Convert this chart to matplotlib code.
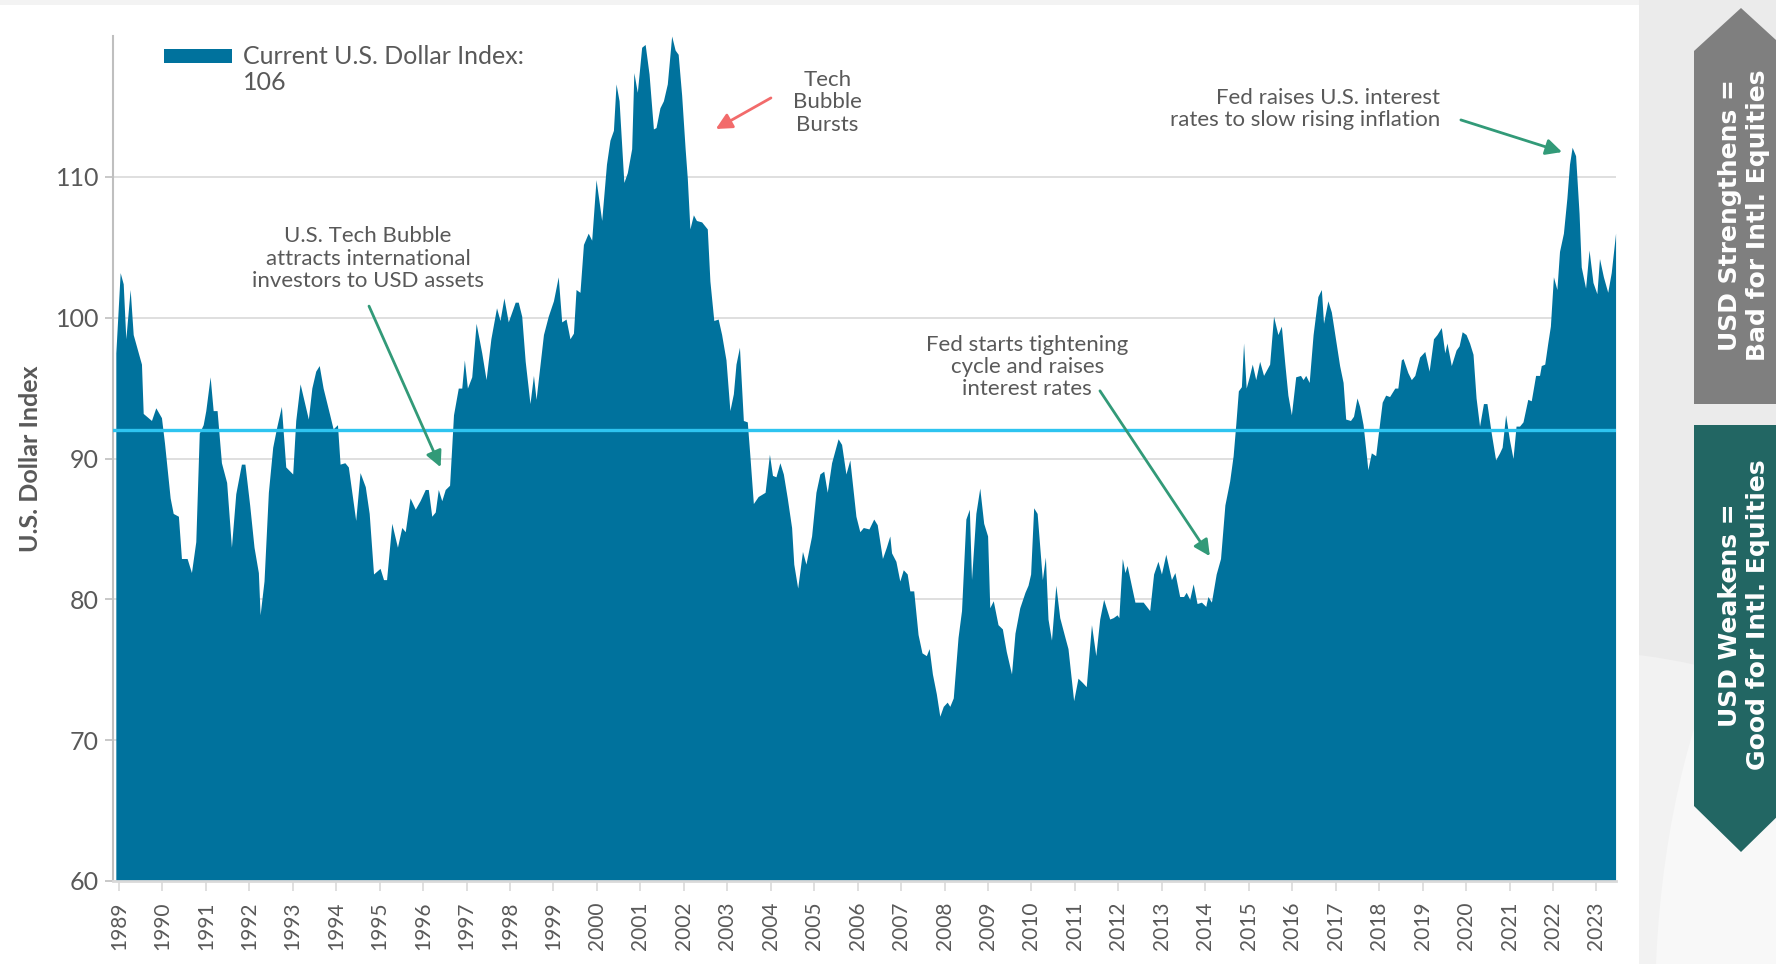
import matplotlib
matplotlib.use("Agg")
import matplotlib.pyplot as plt
from matplotlib.patches import Polygon, Rectangle, Ellipse

# ---------------- data ----------------
dates = [
    1988.93, 1989.03, 1989.10, 1989.16, 1989.26, 1989.33, 1989.52, 1989.56, 1989.75, 1989.85,
    1989.98, 1990.05, 1990.18, 1990.25, 1990.37, 1990.44, 1990.57, 1990.67, 1990.77, 1990.85,
    1990.94, 1991.00, 1991.10, 1991.17, 1991.26, 1991.36, 1991.48, 1991.59, 1991.69, 1991.82,
    1991.90, 1992.01, 1992.11, 1992.21, 1992.25, 1992.34, 1992.44, 1992.54, 1992.63, 1992.74,
    1992.84, 1993.00, 1993.07, 1993.17, 1993.36, 1993.44, 1993.53, 1993.61, 1993.70, 1993.86,
    1993.93, 1994.03, 1994.09, 1994.20, 1994.28, 1994.45, 1994.55, 1994.67, 1994.76, 1994.86,
    1995.01, 1995.09, 1995.16, 1995.28, 1995.41, 1995.51, 1995.59, 1995.70, 1995.82, 1995.93,
    1996.05, 1996.12, 1996.20, 1996.28, 1996.35, 1996.43, 1996.51, 1996.61, 1996.70, 1996.81,
    1996.89, 1996.95, 1997.02, 1997.12, 1997.22, 1997.35, 1997.45, 1997.56, 1997.69, 1997.77,
    1997.86, 1997.96, 1998.12, 1998.19, 1998.27, 1998.35, 1998.46, 1998.54, 1998.60, 1998.77,
    1998.88, 1999.00, 1999.11, 1999.19, 1999.29, 1999.38, 1999.46, 1999.52, 1999.61, 1999.69,
    1999.80, 1999.88, 1999.98, 2000.11, 2000.22,
    2000.30, 2000.38, 2000.44, 2000.51, 2000.62, 2000.70, 2000.80, 2000.85, 2000.93, 2001.03,
    2001.11, 2001.20, 2001.30, 2001.36, 2001.45, 2001.53, 2001.62, 2001.72, 2001.80, 2001.87,
    2001.95, 2002.03, 2002.08, 2002.14, 2002.22, 2002.29, 2002.41, 2002.54, 2002.60, 2002.69,
    2002.79, 2002.87, 2002.97, 2003.06, 2003.14, 2003.20, 2003.28, 2003.37, 2003.46, 2003.52,
    2003.60, 2003.71, 2003.87, 2003.97, 2004.04, 2004.12, 2004.21, 2004.29, 2004.38, 2004.48,
    2004.53, 2004.62, 2004.73, 2004.81, 2004.94, 2005.04, 2005.13, 2005.22, 2005.30, 2005.40,
    2005.55, 2005.63, 2005.73, 2005.82, 2005.96,
    2006.05, 2006.13, 2006.26, 2006.37, 2006.45, 2006.57, 2006.66, 2006.74, 2006.78, 2006.88,
    2006.97, 2007.05, 2007.14, 2007.20, 2007.29, 2007.39, 2007.48, 2007.58, 2007.645, 2007.72,
    2007.81, 2007.89, 2007.97, 2008.06, 2008.12, 2008.20, 2008.31, 2008.39, 2008.49, 2008.57,
    2008.62, 2008.72, 2008.81, 2008.90, 2008.99, 2009.04, 2009.12, 2009.23, 2009.33, 2009.42,
    2009.54, 2009.62, 2009.73, 2009.85, 2009.92, 2009.98, 2010.05, 2010.13, 2010.25, 2010.32,
    2010.38, 2010.46, 2010.56, 2010.65, 2010.77, 2010.84, 2010.97, 2011.07, 2011.17, 2011.26,
    2011.38, 2011.48, 2011.57, 2011.66,
    2011.80, 2011.88, 2011.97, 2012.01, 2012.09, 2012.15, 2012.20, 2012.38, 2012.45, 2012.57,
    2012.72, 2012.81, 2012.91, 2012.99, 2013.09, 2013.22, 2013.30, 2013.41, 2013.50, 2013.56,
    2013.64, 2013.72, 2013.81, 2013.91, 2014.01, 2014.06, 2014.14, 2014.25, 2014.35, 2014.45,
    2014.56, 2014.64, 2014.70, 2014.76, 2014.83, 2014.88, 2014.94, 2015.01, 2015.08, 2015.16,
    2015.25, 2015.34, 2015.48, 2015.57, 2015.67, 2015.75, 2015.83, 2015.90, 2015.98, 2016.08,
    2016.19, 2016.25, 2016.31, 2016.39, 2016.48, 2016.59, 2016.67, 2016.72, 2016.82, 2016.90,
    2017.01, 2017.09, 2017.17, 2017.23, 2017.34, 2017.41, 2017.49,
    2017.55, 2017.63, 2017.69, 2017.74, 2017.82, 2017.92, 2017.97, 2018.07, 2018.15, 2018.24,
    2018.36, 2018.43, 2018.51, 2018.55, 2018.66, 2018.74, 2018.82, 2018.93, 2019.05, 2019.15,
    2019.25, 2019.33, 2019.43, 2019.51, 2019.56, 2019.66, 2019.77, 2019.84, 2019.91, 2020.00,
    2020.08, 2020.16, 2020.23, 2020.31, 2020.40, 2020.48, 2020.58, 2020.68, 2020.77, 2020.83,
    2020.91, 2021.00, 2021.08, 2021.15, 2021.23, 2021.31, 2021.42, 2021.50, 2021.60, 2021.69,
    2021.73, 2021.81, 2021.88, 2021.94, 2022.01, 2022.09, 2022.15, 2022.24, 2022.32, 2022.38,
    2022.44, 2022.52, 2022.60, 2022.65, 2022.75, 2022.83, 2022.92, 2023.01, 2023.07, 2023.16,
    2023.26, 2023.34, 2023.44,
]
usd_index = [
    97.5, 103.2, 102.4, 98.5, 102.0, 98.8, 96.7, 93.2, 92.7, 93.6,
    92.9, 91.1, 87.2, 86.1, 85.9, 82.9, 82.9, 81.9, 84.1, 91.8,
    92.4, 93.4, 95.8, 93.4, 93.4, 89.7, 88.3, 83.7, 87.5, 89.6,
    89.6, 86.7, 83.7, 81.9, 78.9, 81.3, 87.6, 90.8, 92.2, 93.7,
    89.4, 88.9, 92.7, 95.3, 92.8, 95.0, 96.2, 96.6, 95.0, 93.0,
    92.1, 92.4, 89.6, 89.7, 89.4, 85.6, 89.0, 88.0, 86.1, 81.8,
    82.2, 81.4, 81.4, 85.4, 83.7, 85.1, 84.8, 87.2, 86.4, 87.0,
    87.8, 87.8, 85.9, 86.2, 87.8, 87.0, 87.8, 88.1, 93.1, 95.0,
    95.0, 97.0, 95.0, 95.8, 99.6, 97.5, 95.6, 98.5, 100.7, 99.8,
    101.4, 99.7, 101.1, 101.1, 100.1, 96.9, 93.9, 95.9, 94.2, 98.8,
    100.1, 101.2, 102.9, 99.7, 99.9, 98.5, 98.9, 102.0, 101.8, 105.2,
    106.0, 105.5, 109.8, 106.9, 110.9,
    112.6, 113.3, 116.6, 115.4, 109.6, 110.3, 112.0, 117.4, 116.0, 119.2,
    119.4, 117.3, 113.4, 113.5, 114.9, 115.4, 116.6, 120.0, 119.0, 118.7,
    115.8, 112.0, 109.9, 106.3, 107.3, 106.9, 106.8, 106.3, 102.6, 99.8,
    99.9, 98.8, 97.0, 93.4, 94.6, 96.7, 97.9, 92.7, 92.6, 90.2,
    86.8, 87.3, 87.6, 90.3, 88.8, 88.7, 89.7, 88.9, 87.2, 85.1,
    82.5, 80.8, 83.4, 82.5, 84.5, 87.6, 88.9, 89.1, 87.6, 89.7,
    91.4, 91.0, 88.9, 89.9, 85.9,
    84.8, 85.1, 85.0, 85.7, 85.3, 82.9, 83.7, 84.5, 83.3, 82.7,
    81.3, 82.1, 81.8, 80.6, 80.6, 77.5, 76.2, 76.0, 76.5, 74.7,
    73.3, 71.7, 72.4, 72.7, 72.4, 73.0, 77.3, 79.2, 85.7, 86.4,
    81.4, 86.1, 87.9, 85.4, 84.5, 79.4, 79.9, 78.2, 77.9, 76.3,
    74.7, 77.6, 79.4, 80.5, 81.0, 81.8, 86.5, 86.1, 81.4, 83.0,
    78.6, 77.1, 81.0, 78.7, 77.3, 76.5, 72.8, 74.4, 74.1, 73.8,
    78.2, 76.0, 78.6, 80.0,
    78.6, 78.7, 78.9, 78.7, 82.9, 81.9, 82.4, 79.8, 79.8, 79.8,
    79.2, 81.8, 82.7, 81.8, 83.2, 81.4, 81.9, 80.2, 80.2, 80.5,
    80.0, 81.1, 79.7, 79.8, 79.5, 80.2, 79.8, 81.8, 82.9, 86.7,
    88.4, 90.2, 92.4, 94.8, 95.1, 98.2, 95.0, 95.8, 96.7, 95.6,
    96.9, 95.9, 96.7, 100.1, 98.8, 99.4, 96.7, 94.5, 93.1, 95.8,
    95.9, 95.6, 95.9, 95.4, 98.8, 101.5, 102.0, 99.6, 101.2, 100.4,
    98.2, 96.6, 95.4, 92.8, 92.7, 93.0, 94.3,
    93.7, 92.4, 90.7, 89.2, 90.4, 90.2, 91.5, 94.0, 94.5, 94.4,
    95.0, 95.0, 97.0, 97.1, 96.1, 95.6, 95.9, 97.2, 97.6, 96.2,
    98.5, 98.8, 99.3, 97.5, 98.2, 96.6, 97.7, 98.0, 99.0, 98.8,
    98.2, 97.4, 94.3, 92.3, 93.9, 93.9, 91.8, 89.9, 90.4, 90.8,
    93.1, 91.3, 90.0, 92.3, 92.3, 92.6, 94.2, 94.1, 95.9, 95.9,
    96.6, 96.7, 98.2, 99.4, 102.9, 102.0, 104.7, 106.0, 108.5, 110.9,
    112.1, 111.5, 107.4, 103.6, 102.1, 104.8, 102.5, 101.7, 104.2, 102.9,
    101.8, 103.2, 106.0,
]
average_level = 92
y_ticks = [60, 70, 80, 90, 100, 110]
x_ticks = list(range(1989, 2024))
legend_label = "Current U.S. Dollar Index:\n106"

# ---------------- style ----------------
FONT = "Lato"
GRAY_TXT = "#595959"
FILL = "#00729D"
LINE = "#2EC4F0"
GREEN = "#329A78"
RED = "#F26B6B"

W, H = 1776, 964
fig = plt.figure(figsize=(W / 100, H / 100), dpi=100)
fig.patch.set_facecolor("white")

def fx(x):
    return x / W

def fy(y):
    return 1 - y / H

# background decorations (right panel)
fig.patches.append(Rectangle((0, fy(5)), 1, 5 / H, transform=fig.transFigure,
                             facecolor="#F3F3F3", edgecolor="none", zorder=0))
panel = Rectangle((fx(1639), 0), 1 - fx(1639), 1, transform=fig.transFigure,
                  facecolor="#EBEBEB", edgecolor="none", zorder=0)
fig.patches.append(panel)
band = Ellipse((fx(1560), fy(1150)), 2 * 560 / W, 2 * 500 / H,
               transform=fig.transFigure, facecolor="#F2F2F2", edgecolor="none", zorder=0)
fig.patches.append(band)
band.set_clip_path(panel)
arc = Ellipse((fx(1900), fy(1010)), 2 * 245 / W, 2 * 520 / H,
              transform=fig.transFigure, facecolor="#F8F8F8", edgecolor="none", zorder=0)
fig.patches.append(arc)
arc.set_clip_path(panel)

# arrows on the right
up = [(1694, 404), (1694, 51), (1741, 8), (1788, 51), (1788, 404)]
down = [(1694, 425), (1694, 806), (1741, 852), (1788, 806), (1788, 425)]
fig.patches.append(Polygon([(fx(a), fy(b)) for a, b in up], closed=True,
                           transform=fig.transFigure, facecolor="#7F7F7F",
                           edgecolor="none", zorder=1))
fig.patches.append(Polygon([(fx(a), fy(b)) for a, b in down], closed=True,
                           transform=fig.transFigure, facecolor="#226663",
                           edgecolor="none", zorder=1))
fig.text(fx(1744), fy(215), "USD Strengthens =\nBad for Intl. Equities", rotation=90,
         ha="center", va="center", color="white", fontsize=18, fontweight="bold",
         family=["DejaVu Sans"], linespacing=1.2, zorder=2)
fig.text(fx(1744), fy(615), "USD Weakens =\nGood for Intl. Equities", rotation=90,
         ha="center", va="center", color="white", fontsize=18, fontweight="bold",
         family=["DejaVu Sans"], linespacing=1.2, zorder=2)

# main axes
ax = fig.add_axes([fx(113), fy(881), (1616 - 113) / W, (881 - 36) / H])
ax.set_facecolor("none")
ax.fill_between(dates, usd_index, 60, color=FILL, linewidth=0, zorder=2)
ax.axhline(average_level, color=LINE, lw=2.4, zorder=3)

ax.set_xlim(1988.865, 2023.45)
ax.set_ylim(60, 120)
ax.set_yticks(y_ticks)
ax.set_yticklabels([str(v) for v in y_ticks], fontsize=18, color=GRAY_TXT, family=FONT)
ax.set_xticks(x_ticks)
ax.set_xticklabels([str(v) for v in x_ticks], rotation=90, fontsize=15,
                   color=GRAY_TXT, family=FONT)
ax.grid(axis="y", color="#D9D9D9", lw=1.2, zorder=0)
ax.set_axisbelow(True)
for s in ["top", "right"]:
    ax.spines[s].set_visible(False)
ax.spines["left"].set_color("#BFBFBF")
ax.spines["left"].set_linewidth(1.5)
ax.spines["bottom"].set_color("#D9D9D9")
ax.spines["bottom"].set_linewidth(2)
ax.tick_params(axis="y", length=6, width=1.2, color="#BFBFBF", pad=4)
ax.tick_params(axis="x", length=7, width=1.2, color="#D9D9D9", pad=8)
ax.set_ylabel("U.S. Dollar Index", fontsize=18, fontweight="bold", color=GRAY_TXT,
              family=FONT, labelpad=10)

# legend (manual)
fig.patches.append(Rectangle((fx(164), fy(63)), (232 - 164) / W, 14 / H,
                             transform=fig.transFigure, facecolor=FILL,
                             edgecolor="none", zorder=3))
fig.text(fx(243), fy(45), legend_label, ha="left", va="top", fontsize=18,
         color=GRAY_TXT, family=FONT, linespacing=1.15)

# annotations
tfs = 16
ax.text(1994.73, 104.2, "U.S. Tech Bubble\nattracts international\ninvestors to USD assets",
        ha="center", va="center", fontsize=tfs, color=GRAY_TXT, family=FONT,
        linespacing=1.15, zorder=4)
ax.annotate("", xy=(1996.43, 89.2), xytext=(1994.73, 101.0),
            arrowprops=dict(arrowstyle="-|>", color=GREEN, lw=2, mutation_scale=24), zorder=4)

ax.text(2005.31, 115.3, "Tech\nBubble\nBursts", ha="center", va="center", fontsize=tfs,
        color=GRAY_TXT, family=FONT, linespacing=1.15, zorder=4)
ax.annotate("", xy=(2002.68, 113.3), xytext=(2004.06, 115.7),
            arrowprops=dict(arrowstyle="-|>", color=RED, lw=2, mutation_scale=24), zorder=4)

ax.text(2009.9, 96.5, "Fed starts tightening\ncycle and raises\ninterest rates",
        ha="center", va="center", fontsize=tfs, color=GRAY_TXT, family=FONT,
        linespacing=1.15, zorder=4)
ax.annotate("", xy=(2014.14, 82.9), xytext=(2011.54, 94.97),
            arrowprops=dict(arrowstyle="-|>", color=GREEN, lw=2, mutation_scale=24), zorder=4)

ax.text(2019.41, 114.8, "Fed raises U.S. interest\nrates to slow rising inflation",
        ha="right", va="center", fontsize=tfs, color=GRAY_TXT, family=FONT,
        linespacing=1.15, multialignment="right", zorder=4)
ax.annotate("", xy=(2022.27, 111.7), xytext=(2019.82, 114.1),
            arrowprops=dict(arrowstyle="-|>", color=GREEN, lw=2, mutation_scale=24), zorder=4)

fig.savefig("out.png", dpi=100)
